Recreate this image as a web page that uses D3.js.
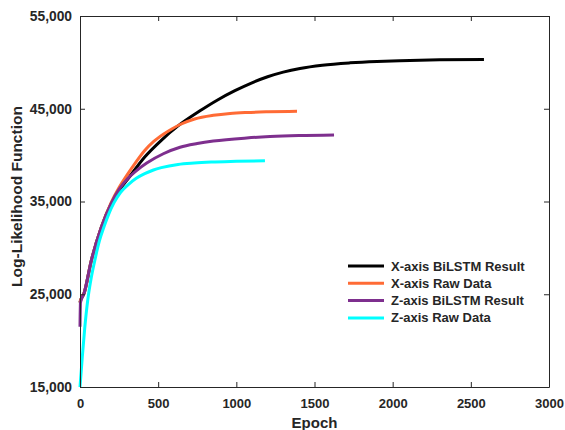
<!DOCTYPE html>
<html>
<head>
<meta charset="utf-8">
<script src="https://cdn.jsdelivr.net/npm/d3@7"></script>
<style>
  body { margin: 0; background: #fff; }
  text { font-family: "Liberation Sans", Arial, sans-serif; font-weight: bold; fill: #262626; }
</style>
</head>
<body>
<svg id="chart" width="565" height="430"></svg>
<script>
// ---- data ----
const seriesNames = ["X-axis BiLSTM Result", "X-axis Raw Data", "Z-axis BiLSTM Result", "Z-axis Raw Data"];
const seriesColors = ["#000000", "#FF6B35", "#7E2F8E", "#00FFFF"];
const xBiLSTM = [[0,24100],[3,24300],[26,25100],[72,28600],[136,32200],[200,34800],[250,36200],[307,37450],[414,39800],[520,41600],[627,43150],[765,44750],[880,45950],[991,46950],[1100,47800],[1200,48450],[1300,48950],[1407,49350],[1550,49700],[1727,49950],[1900,50100],[2047,50180],[2300,50270],[2584,50310]];
const xRaw = [[0,24100],[3,24300],[26,25100],[72,28600],[136,32200],[200,34900],[250,36500],[307,38000],[360,39300],[414,40500],[470,41450],[533,42250],[590,42850],[640,43300],[733,43900],[853,44300],[960,44500],[1066,44600],[1203,44670],[1388,44720]];
const zBiLSTM = [[0,21500],[3,24100],[26,25100],[72,28600],[136,32200],[200,34800],[250,36300],[307,37500],[370,38450],[427,39150],[533,40150],[640,40850],[750,41250],[853,41520],[1066,41850],[1215,42000],[1400,42110],[1625,42170]];
const zRaw = [[0,15000],[15,18300],[30,21300],[49,24300],[70,26600],[98,28900],[125,30800],[154,32300],[185,33700],[217,34850],[260,36000],[307,36800],[360,37500],[414,38000],[470,38400],[520,38650],[627,39000],[730,39150],[840,39250],[1000,39330],[1183,39400]];
const xTicks = [0, 500, 1000, 1500, 2000, 2500, 3000];
const yTicks = [15000, 25000, 35000, 45000, 55000];

const allSeries = [xBiLSTM, xRaw, zBiLSTM, zRaw];

// ---- layout ----
const svg = d3.select("#chart");
const L = 80, T = 16, W = 469, H = 371;
const x = d3.scaleLinear().domain([0, 3000]).range([L, L + W]);
const y = d3.scaleLinear().domain([15000, 55000]).range([T + H, T]);
const axisColor = "#262626";

// lines
const line = d3.line().x(d => x(d[0])).y(d => y(d[1])).curve(d3.curveMonotoneX);
const g = svg.append("g");
allSeries.forEach((s, i) => {
  g.append("path").datum(s).attr("d", line)
    .attr("fill", "none").attr("stroke", seriesColors[i]).attr("stroke-width", 3);
});

// axes
const fmt = d3.format(",");
const axBottom = svg.append("g").attr("transform", `translate(0,${T + H})`)
  .call(d3.axisBottom(x).tickValues(xTicks).tickSizeInner(-5).tickSizeOuter(0).tickPadding(12).tickFormat(d3.format("d")));
const axTop = svg.append("g").attr("transform", `translate(0,${T})`)
  .call(d3.axisTop(x).tickValues(xTicks).tickSizeInner(-5).tickSizeOuter(0).tickFormat(""));
const axLeft = svg.append("g").attr("transform", `translate(${L},0)`)
  .call(d3.axisLeft(y).tickValues(yTicks).tickSizeInner(-5).tickSizeOuter(0).tickPadding(8).tickFormat(fmt));
const axRight = svg.append("g").attr("transform", `translate(${L + W},0)`)
  .call(d3.axisRight(y).tickValues(yTicks).tickSizeInner(-5).tickSizeOuter(0).tickFormat(""));
[axBottom, axTop, axLeft, axRight].forEach(a => {
  a.selectAll("path, line").attr("stroke", axisColor).attr("stroke-width", 1);
  a.selectAll("text").attr("font-weight", "bold")
    .attr("font-family", "'Liberation Sans', Arial, sans-serif").attr("fill", axisColor);
});
axBottom.selectAll("text").attr("font-size", 13);
axLeft.selectAll("text").attr("font-size", 13.8);

// axis titles
svg.append("text").attr("x", x(1500)).attr("y", 428).attr("text-anchor", "middle")
  .attr("font-size", 15).text("Epoch");
svg.append("text").attr("transform", `translate(22,${T + H / 2 - 5}) rotate(-90)`)
  .attr("text-anchor", "middle").attr("font-size", 15.5).text("Log-Likelihood Function");

// legend
const lg = svg.append("g");
seriesNames.forEach((n, i) => {
  const yy = 266 + i * 17.3;
  lg.append("line").attr("x1", 348).attr("x2", 384).attr("y1", yy).attr("y2", yy)
    .attr("stroke", seriesColors[i]).attr("stroke-width", 3);
  lg.append("text").attr("x", 391).attr("y", yy + 4.5).attr("font-size", 13).text(n);
});
</script>
</body>
</html>
